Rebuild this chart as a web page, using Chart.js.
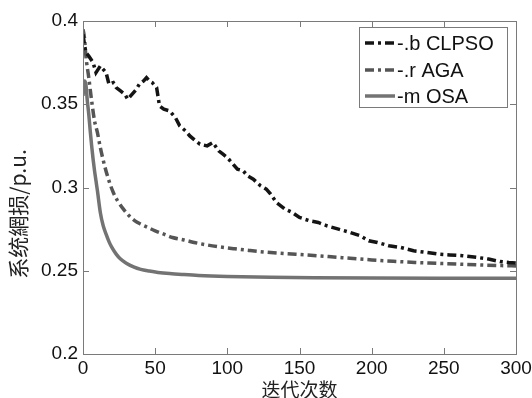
<!DOCTYPE html>
<html>
<head>
<meta charset="utf-8">
<script src="https://cdn.jsdelivr.net/npm/chart.js@4"></script>
<style>
  html, body { margin: 0; padding: 0; background: #fff; }
  #wrap { width: 532px; height: 398px; }
</style>
</head>
<body>
<div id="wrap"><canvas id="chart" width="532" height="398"></canvas></div>
<script>
// iterations and loss values
const clpsoIter = [0, 1, 2, 4, 7, 9, 12, 16, 18, 21, 23, 26, 29, 31, 33, 35, 37, 39, 42, 44, 46, 48, 51, 53, 56, 60, 64, 67, 71, 74, 78, 81, 86, 90, 94, 97, 100, 104, 107, 111, 114, 118, 123, 127, 130, 134, 140, 145, 150, 157, 163, 169, 177, 185, 192, 198, 204, 212, 220, 229, 238, 246, 254, 263, 273, 281, 289, 295, 300]
const clpsoLoss = [0.392, 0.386, 0.381, 0.379, 0.375, 0.369, 0.373, 0.369, 0.362, 0.363, 0.360, 0.358, 0.356, 0.353, 0.355, 0.357, 0.359, 0.362, 0.364, 0.366, 0.364, 0.363, 0.360, 0.349, 0.347, 0.346, 0.342, 0.337, 0.334, 0.331, 0.328, 0.326, 0.325, 0.327, 0.322, 0.320, 0.318, 0.314, 0.311, 0.310, 0.307, 0.305, 0.301, 0.299, 0.296, 0.291, 0.287, 0.285, 0.282, 0.280, 0.279, 0.277, 0.275, 0.273, 0.271, 0.268, 0.267, 0.265, 0.264, 0.262, 0.261, 0.260, 0.2595, 0.259, 0.258, 0.257, 0.2555, 0.255, 0.2547]

const agaIter = [0, 1, 2, 4, 6, 8, 10, 12, 15, 18, 21, 24, 28, 32, 36, 40, 45, 50, 56, 62, 70, 78, 86, 95, 105, 115, 125, 140, 155, 170, 185, 200, 215, 230, 245, 260, 275, 290, 300]
const agaLoss = [0.395, 0.390, 0.379, 0.366, 0.352, 0.340, 0.333, 0.324, 0.313, 0.304, 0.297, 0.292, 0.287, 0.283, 0.280, 0.278, 0.276, 0.274, 0.272, 0.270, 0.2685, 0.2668, 0.2655, 0.2643, 0.2632, 0.2622, 0.2613, 0.2603, 0.2595, 0.2585, 0.2575, 0.2565, 0.2557, 0.2550, 0.2545, 0.2540, 0.2535, 0.2531, 0.2529]

const osaIter = [0, 1, 2, 3, 4, 5, 6, 7, 8, 9, 10, 12, 14, 16, 18, 20, 23, 26, 30, 35, 40, 46, 52, 60, 70, 80, 100, 130, 160, 200, 250, 300]
const osaLoss = [0.355, 0.364, 0.362, 0.352, 0.344, 0.334, 0.325, 0.317, 0.310, 0.304, 0.298, 0.285, 0.277, 0.272, 0.2675, 0.264, 0.260, 0.257, 0.2545, 0.2523, 0.2508, 0.2498, 0.2490, 0.2483, 0.2477, 0.2472, 0.2466, 0.2461, 0.2458, 0.2456, 0.2455, 0.2455]

const seriesNames = ["-.b CLPSO", "-.r AGA", "-m OSA"]
const xTicks = [0, 50, 100, 150, 200, 250, 300]
const yTicks = ["0.2", "0.25", "0.3", "0.35", "0.4"]
const xTitle = "迭代次数"
const yTitle = "系统網损/p.u."

const toPoints = (xs, ys) => xs.map((x, i) => ({ x, y: ys[i] }))

const frameColor = "#7a7a7a"
const dashDot = [9, 4, 3, 4]

// inside ticks on all four sides, box frame, y title and boxed legend
const framePlugin = {
    id: "frame",
    afterDatasetsDraw(chart){
        const { ctx, chartArea: a, scales } = chart
        const tick = 6

        ctx.save()
        ctx.strokeStyle = frameColor
        ctx.lineWidth = 1
        ctx.strokeRect(a.left + 0.5, a.top + 0.5, a.right - a.left, a.bottom - a.top)

        ctx.beginPath()
        xTicks.forEach(v => {
            const px = Math.round(scales.x.getPixelForValue(v)) + 0.5
            ctx.moveTo(px, a.bottom); ctx.lineTo(px, a.bottom - tick)
            ctx.moveTo(px, a.top); ctx.lineTo(px, a.top + tick)
        })
        yTicks.forEach(v => {
            const py = Math.round(scales.y.getPixelForValue(parseFloat(v))) + 0.5
            ctx.moveTo(a.left, py); ctx.lineTo(a.left + tick, py)
            ctx.moveTo(a.right, py); ctx.lineTo(a.right - tick, py)
        })
        ctx.stroke()

        // y title, rotated
        ctx.fillStyle = "#222"
        ctx.font = '21px "Noto Sans CJK SC"'
        ctx.textAlign = "center"
        ctx.textBaseline = "middle"
        ctx.translate(18, 214)
        ctx.rotate(-Math.PI / 2)
        ctx.fillText(yTitle, 0, 0)
        ctx.restore()

        // legend box
        const box = { left: 359, top: 27, width: 148, height: 80 }
        ctx.save()
        ctx.fillStyle = "#fff"
        ctx.fillRect(box.left, box.top, box.width, box.height)
        ctx.strokeStyle = frameColor
        ctx.lineWidth = 1
        ctx.strokeRect(box.left + 0.5, box.top + 0.5, box.width, box.height)

        ctx.font = '20px "Liberation Sans", Arial, sans-serif'
        ctx.textBaseline = "middle"
        ctx.textAlign = "left"
        const rows = [43, 70, 96]
        chart.data.datasets.forEach((ds, i) => {
            const y = rows[i]
            ctx.strokeStyle = ds.borderColor
            ctx.lineWidth = ds.borderWidth
            ctx.setLineDash(ds.borderDash || [])
            ctx.beginPath()
            ctx.moveTo(box.left + 6, y)
            ctx.lineTo(box.left + 36, y)
            ctx.stroke()
            ctx.setLineDash([])
            ctx.fillStyle = "#111"
            ctx.fillText(ds.label, box.left + 38, y + 1)
        })
        ctx.restore()
    }
}

const context = document.getElementById("chart").getContext("2d")

new Chart(context, {
    type: "line",
    data: {
        datasets: [{
            label: seriesNames[0],
            data: toPoints(clpsoIter, clpsoLoss),
            borderColor: "#141414",
            borderWidth: 3.5,
            borderDash: dashDot,
            tension: 0
        }, {
            label: seriesNames[1],
            data: toPoints(agaIter, agaLoss),
            borderColor: "#555555",
            borderWidth: 3.5,
            borderDash: dashDot,
            cubicInterpolationMode: "monotone"
        }, {
            label: seriesNames[2],
            data: toPoints(osaIter, osaLoss),
            borderColor: "#737373",
            borderWidth: 3.5,
            cubicInterpolationMode: "monotone"
        }]
    },
    options: {
        responsive: false,
        animation: false,
        events: [],
        elements: { point: { radius: 0 } },
        layout: { padding: { top: 21, right: 16, left: 0, bottom: 0 } },
        plugins: {
            legend: { display: false },
            tooltip: { enabled: false }
        },
        scales: {
            x: {
                type: "linear",
                min: 0,
                max: 300,
                afterBuildTicks: scale => { scale.ticks = xTicks.map(value => ({ value })) },
                afterFit: scale => {
                    scale.height = 44
                    // let "300" run past the canvas edge as in the original
                    scale.paddingRight = 0
                    scale.paddingLeft = 0
                },
                grid: { display: false, drawTicks: false },
                border: { display: false },
                ticks: {
                    color: "#111",
                    padding: 3,
                    maxRotation: 0,
                    font: { family: '"Liberation Sans", Arial, sans-serif', size: 19 }
                },
                title: {
                    display: true,
                    text: xTitle,
                    color: "#222",
                    padding: { top: 0, bottom: 1 },
                    font: { family: '"Noto Sans CJK SC"', size: 19, lineHeight: 0.8 }
                }
            },
            y: {
                type: "linear",
                min: 0.2,
                max: 0.4,
                afterBuildTicks: scale => { scale.ticks = yTicks.map(t => ({ value: parseFloat(t) })) },
                afterFit: scale => { scale.width = 83 },
                grid: { display: false, drawTicks: false },
                border: { display: false },
                ticks: {
                    color: "#111",
                    padding: 5,
                    callback: (value, index) => yTicks[index],
                    font: { family: '"Liberation Sans", Arial, sans-serif', size: 19 }
                }
            }
        }
    },
    plugins: [framePlugin]
})
</script>
</body>
</html>
